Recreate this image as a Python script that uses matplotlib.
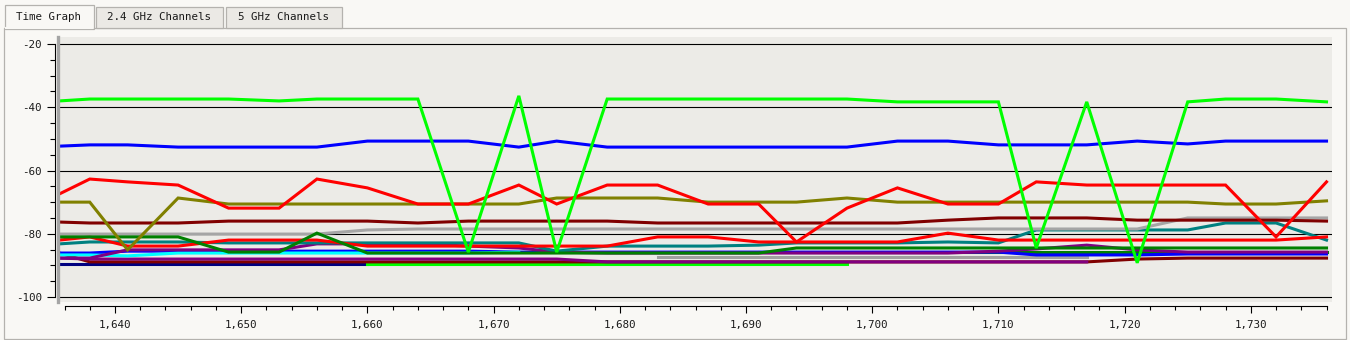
import numpy as np
import matplotlib
matplotlib.use("Agg")
import matplotlib.pyplot as plt
from matplotlib.patches import Rectangle
from matplotlib.ticker import MultipleLocator, FuncFormatter

plt.rcParams['axes.unicode_minus'] = False
nan = np.nan

# ---------------- data ----------------
times = [1635.6, 1638, 1641, 1645, 1649, 1653, 1656, 1660, 1664, 1668, 1672, 1675, 1679, 1683,
         1687, 1691, 1694, 1698, 1702, 1706, 1710, 1713, 1717, 1721, 1725, 1728, 1732, 1736]

lime_top = [-38.0, -37.4, -37.4, -37.4, -37.4, -38.0, -37.4, -37.4, -37.4, -85.8, -36.4, -85.8, -37.4, -37.4,
            -37.4, -37.4, -37.4, -37.4, -38.3, -38.3, -38.3, -84.5, -38.3, -89.2, -38.3, -37.4, -37.4, -38.3]
blue_top = [-52.3, -51.9, -51.9, -52.6, -52.6, -52.6, -52.6, -50.7, -50.7, -50.7, -52.6, -50.7, -52.6, -52.6,
            -52.6, -52.6, -52.6, -52.6, -50.7, -50.7, -51.9, -51.9, -51.9, -50.7, -51.6, -50.7, -50.7, -50.7]
red_top = [-67.4, -62.7, -63.6, -64.6, -71.9, -71.9, -62.7, -65.5, -70.6, -70.6, -64.6, -70.6, -64.6, -64.6,
           -70.6, -70.6, -82.6, -71.9, -65.5, -70.6, -70.6, -63.6, -64.6, -64.6, -64.6, -64.6, -81.0, -63.6]
olive = [-70.0, -70.0, -85.1, -68.7, -70.6, -70.6, -70.6, -70.6, -70.6, -70.6, -70.6, -68.7, -68.7, -68.7,
         -70.0, -70.0, -70.0, -68.7, -70.0, -70.0, -70.0, -70.0, -70.0, -70.0, -70.0, -70.6, -70.6, -69.6]
maroon = [-76.3, -76.6, -76.6, -76.6, -76.0, -76.0, -76.0, -76.0, -76.6, -76.0, -76.0, -76.0, -76.0, -76.6,
          -76.6, -76.6, -76.6, -76.6, -76.6, -75.7, -75.0, -75.0, -75.0, -75.7, -75.7, -75.7, -75.7, -76.0]
gray = [-80.1, -80.1, -80.1, -80.1, -80.1, -80.1, -80.1, -78.8, -78.5, -78.5, -78.5, -78.5, -78.5, -78.5,
        -78.5, -78.5, -78.5, -78.5, -78.5, -78.5, -78.5, -78.5, -78.5, -78.5, -75.0, -75.0, -75.0, -75.0]
green = [-81.0, -81.0, -81.0, -81.0, -85.8, -85.8, -79.8, -86.1, -86.1, -86.1, -86.1, -86.1, -86.1, -86.1,
         -86.1, -86.1, -84.5, -84.5, -84.5, -84.5, -84.5, -84.5, -84.5, -84.5, -84.5, -84.5, -84.5, -84.5]
red_low = [-82.0, -81.0, -83.9, -83.9, -82.0, -82.0, -82.0, -83.9, -83.9, -83.9, -83.9, -83.9, -83.9, -81.0,
           -81.0, -82.6, -82.6, -82.6, -82.6, -79.8, -82.0, -82.0, -82.0, -82.0, -82.0, -82.0, -82.0, -81.0]
teal = [-83.2, -82.6, -82.6, -82.6, -82.9, -82.9, -82.9, -82.9, -82.9, -82.9, -82.9, -85.5, -83.9, -83.9,
        -83.9, -83.6, -82.9, -82.9, -82.9, -82.6, -82.9, -78.8, -78.8, -78.8, -78.8, -76.6, -76.6, -82.0]
purple = [-87.7, -87.7, -85.1, -85.1, -85.1, -85.1, -83.2, -83.2, -83.2, -83.9, -84.5, -85.8, -86.1, -86.1,
          -86.1, -86.1, -86.1, -86.1, -86.1, -86.1, -85.5, -84.8, -83.6, -85.1, -85.8, -85.8, -85.8, -85.8]
cyan = [-86.7, -86.7, -87.0, -86.1, -86.1, -86.1, -86.1, -86.1, -86.1, -86.1, -85.8, nan, nan, nan,
        nan, nan, nan, nan, nan, nan, nan, nan, nan, nan, nan, nan, nan, nan]
blue_low = [-86.1, -86.1, -85.5, -85.5, -85.5, -85.5, -85.5, -85.5, -85.5, -85.5, -85.8, -85.8, -85.8, -85.8,
            -85.8, -85.8, -85.8, -85.8, -85.8, -85.8, -85.8, -86.7, -86.7, -86.7, -86.4, -86.4, -86.4, -86.4]
navy = [-89.6, -89.6, -89.6, -89.6, -89.6, -89.6, -89.6, -89.6, nan, nan, nan, nan, nan, nan,
        nan, nan, nan, nan, nan, nan, nan, nan, nan, nan, nan, nan, nan, nan]
lime_low = [nan, nan, nan, nan, nan, nan, nan, -89.6, -89.6, -89.6, -89.6, -89.6, -89.6, -89.6,
            -89.6, -89.6, -89.6, -89.6, nan, nan, nan, nan, nan, nan, nan, nan, nan, nan]
maroon_low = [-86.1, -88.9, -88.9, -88.9, -88.9, -88.9, -88.9, -88.9, -88.9, -88.9, -88.9, -88.9, -88.9, -88.9,
              -88.9, -88.9, -88.9, -88.9, -88.9, -88.9, -88.9, -88.9, -88.9, -88.0, -87.7, -87.7, -87.7, -87.7]
purple_low = [-87.7, -88.0, -88.0, -88.0, -88.0, -88.0, -88.0, -88.0, -88.0, -88.0, -88.0, -88.0, -88.9, -88.9,
              -88.9, -88.9, -88.9, -88.9, -88.9, -88.9, -88.9, -88.9, -88.9, nan, nan, nan, nan, nan]
gray_low = [nan, nan, nan, nan, nan, nan, nan, nan, nan, nan, nan, nan, nan, -87.4,
            -87.4, -87.4, -87.4, -87.4, -87.4, -87.4, -87.4, -87.4, -87.4, nan, nan, nan, nan, nan]
green_low = [nan, nan, nan, nan, nan, nan, nan, nan, nan, nan, nan, nan, nan, nan,
             nan, -85.8, -85.8, -85.8, -85.8, -85.8, -85.8, -85.8, -85.8, -85.8, -85.8, -85.8, -85.8, -85.8]

# drawing order: bottom of stack first
series = [
    (navy, '#000080'), (lime_low, '#00ff00'), (maroon_low, '#800000'), (purple_low, '#800080'),
    (gray_low, '#a0a0a0'), (green_low, '#008000'), (blue_low, '#0000ff'), (cyan, '#00ffff'),
    (purple, '#800080'), (teal, '#008080'), (red_low, '#ff0000'), (gray, '#a5a5a5'),
    (green, '#008000'), (maroon, '#800000'), (olive, '#808000'), (red_top, '#ff0000'),
    (blue_top, '#0000ff'), (lime_top, '#00ff00'),
]

tabs = ['Time Graph', '2.4 GHz Channels', '5 GHz Channels']
y_grid = [-20, -40, -60, -80, -100]

# ---------------- figure ----------------
W, H = 1350, 340
FIG_BG = '#f9f8f5'
MONO = 'DejaVu Sans Mono'
FS = 7.8
fig = plt.figure(figsize=(W / 100, H / 100), dpi=100)
fig.patch.set_facecolor(FIG_BG)

# chrome (tabs + panel frame) in pixel coordinates
bg = fig.add_axes([0, 0, 1, 1], zorder=0)
bg.set_xlim(0, W)
bg.set_ylim(H, 0)
bg.axis('off')
bg.add_patch(Rectangle((3.5, 27.5), 1342, 311, fill=False, edgecolor='#b4b2ae', lw=0.9))
tab_boxes = [(4.5, 4.5, 89, 24, FIG_BG), (95.5, 6.5, 127, 21, '#ebe9e5'), (225.5, 6.5, 116, 21, '#ebe9e5')]
for (x0, y0, w, h, fc), label in zip(tab_boxes, tabs):
    bg.add_patch(Rectangle((x0, y0), w, h, facecolor=fc, edgecolor='#b4b2ae', lw=0.9))
    bg.text(x0 + w / 2, 17, label, ha='center', va='center', family=MONO, fontsize=FS, color='#1a1a1a')
# open bottom of the selected tab
bg.plot([5.2, 93.2], [27.5, 27.5], color=FIG_BG, lw=1.5, solid_capstyle='butt')

# main plot
left, right, top, bottom = 58, 1332, 37, 302
ax = fig.add_axes([left / W, (H - bottom) / H, (right - left) / W, (bottom - top) / H], zorder=2)
ax.set_facecolor('#ecebe7')
ppd = (297 - 44) / 80.0
ppx = 12.62
ax.set_xlim(1640 + (left - 115) / ppx, 1640 + (right - 115) / ppx)
ax.set_ylim(-100 - (bottom - 297) / ppd, -20 + (44 - top) / ppd)

for yv in y_grid:
    ax.axhline(yv, color='black', lw=0.8, zorder=1)

for vals, col in series:
    ax.plot(times, vals, color=col, lw=2.2, zorder=3, solid_joinstyle='miter')

# gray left border of the plot box
ax.plot([0, 0], [0, 1], transform=ax.transAxes, color='#a5a5a5', lw=2.4, clip_on=False, zorder=5)

for s in ['top', 'right']:
    ax.spines[s].set_visible(False)
ax.spines['left'].set_position(('outward', 2.2))
ax.spines['left'].set_bounds(-100, -20)
ax.spines['left'].set_linewidth(0.8)
ax.spines['bottom'].set_position(('outward', 3.0))
ax.spines['bottom'].set_bounds(1636, 1736)
ax.spines['bottom'].set_linewidth(0.8)

ax.yaxis.set_major_locator(MultipleLocator(20))
ax.yaxis.set_minor_locator(MultipleLocator(5))
ax.xaxis.set_major_locator(MultipleLocator(10))
ax.xaxis.set_minor_locator(MultipleLocator(2))
ax.xaxis.set_major_formatter(FuncFormatter(lambda v, p: f'{v:,.0f}'))
ax.yaxis.set_major_formatter(FuncFormatter(lambda v, p: f'{v:.0f}'))
ax.tick_params(axis='y', which='major', length=5.8, width=0.8, pad=3.5, labelsize=FS)
ax.tick_params(axis='y', which='minor', length=3.6, width=0.8)
ax.tick_params(axis='x', which='major', length=5.0, width=0.8, pad=5, labelsize=FS)
ax.tick_params(axis='x', which='minor', length=2.9, width=0.8)
for lab in ax.get_xticklabels() + ax.get_yticklabels():
    lab.set_family(MONO)
    lab.set_color('#1a1a1a')

fig.savefig('out.png', dpi=100, facecolor=FIG_BG)
